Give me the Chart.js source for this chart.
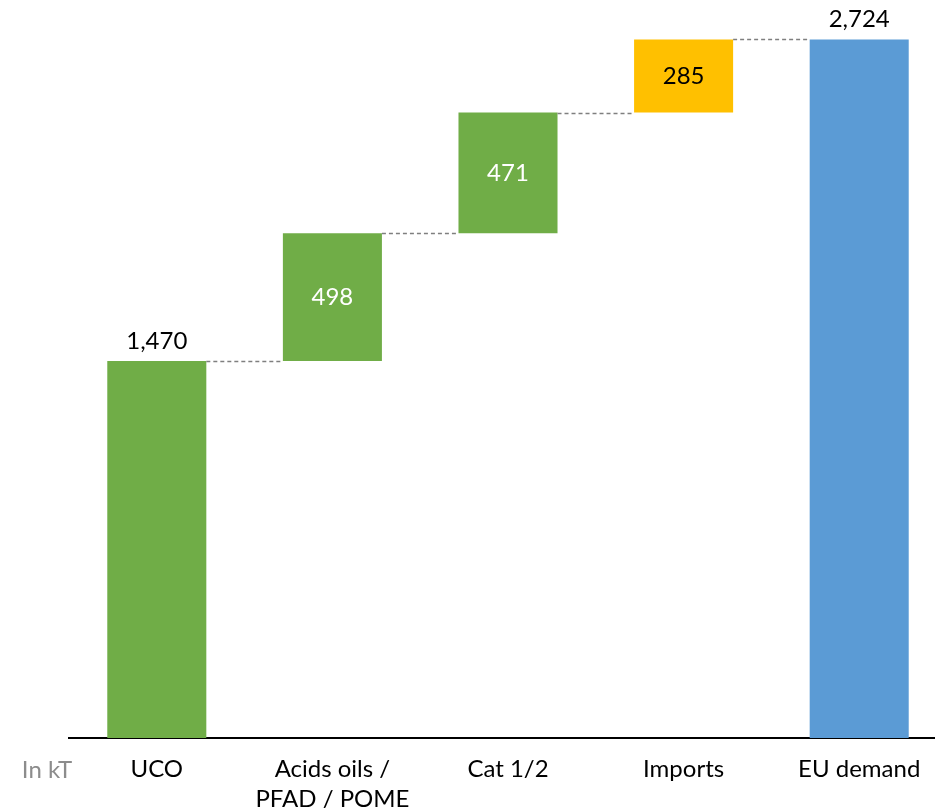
<!DOCTYPE html>
<html>
<head>
<meta charset="utf-8">
<script src="https://cdn.jsdelivr.net/npm/chart.js@4.4.1/dist/chart.umd.min.js"></script>
<style>
  html, body { margin: 0; padding: 0; background: #fff; overflow: hidden; }
  #wrap { width: 935px; height: 812px; overflow: hidden; position: relative; }
  #box { width: 947px; height: 812px; position: absolute; left: 0; top: 0; }
</style>
</head>
<body>
<div id="wrap"><div id="box"><canvas id="c"></canvas></div></div>
<script>
const categories = ['UCO', ['Acids oils /', 'PFAD / POME'], 'Cat 1/2', 'Imports', 'EU demand'];
const values = [1470, 498, 471, 285, 2724];
const isTotal = [true, false, false, false, true];
const barColors = ['#70AD47', '#70AD47', '#70AD47', '#FFC000', '#5B9BD5'];
const labelColors = ['#000000', '#FFFFFF', '#FFFFFF', '#000000', '#000000'];
const unitLabel = 'In kT';
const yMax = 2800;

const FONT = 'Lato, "Open Sans", sans-serif';

// floating ranges from the values
let running = 0;
const ranges = values.map((v, i) => {
  if (isTotal[i]) { running = v; return [0, v]; }
  const r = [running, running + v];
  running += v;
  return r;
});

const overlay = {
  id: 'overlay',
  afterDatasetsDraw(chart) {
    const ctx = chart.ctx;
    const meta = chart.getDatasetMeta(0);
    const y = chart.scales.y;
    ctx.save();
    // connectors
    ctx.strokeStyle = '#7F7F7F';
    ctx.lineWidth = 1.3;
    ctx.setLineDash([4, 3]);
    for (let i = 0; i < meta.data.length - 1; i++) {
      const a = meta.data[i], b = meta.data[i + 1];
      const level = ranges[i][1];
      const py = Math.round(y.getPixelForValue(level)) + 0.5;
      ctx.beginPath();
      ctx.moveTo(a.x + a.width / 2, py);
      ctx.lineTo(b.x - b.width / 2, py);
      ctx.stroke();
    }
    ctx.setLineDash([]);
    // value labels
    ctx.font = '24px ' + FONT;
    ctx.textAlign = 'center';
    ctx.textBaseline = 'middle';
    meta.data.forEach((bar, i) => {
      const txt = values[i].toLocaleString('en-US');
      ctx.fillStyle = labelColors[i];
      if (isTotal[i]) {
        const top = Math.min(bar.y, bar.base);
        ctx.fillText(txt, bar.x, top - 20);
      } else {
        ctx.fillText(txt, bar.x, (bar.y + bar.base) / 2);
      }
    });
    // unit label
    ctx.fillStyle = '#8C8C8C';
    ctx.fillText(unitLabel, 47, 770);
    ctx.restore();
  }
};

new Chart(document.getElementById('c'), {
  type: 'bar',
  data: {
    labels: categories,
    datasets: [{
      data: ranges,
      backgroundColor: barColors,
      borderWidth: 0,
      barPercentage: 0.564,
      categoryPercentage: 1.0
    }]
  },
  options: {
    responsive: true,
    maintainAspectRatio: false,
    animation: false,
    events: [],
    layout: { padding: { top: 20, left: 69, right: 0, bottom: 0 } },
    plugins: { legend: { display: false }, tooltip: { enabled: false } },
    scales: {
      x: {
        grid: { display: false, drawTicks: false },
        border: { display: true, color: '#000000', width: 2 },
        ticks: {
          color: '#000000',
          padding: 16,
          maxRotation: 0,
          autoSkip: false,
          font: { family: FONT, size: 24, lineHeight: 1.25 }
        },
        afterFit(axis) { axis.height = 74; }
      },
      y: {
        display: false,
        min: 0,
        max: yMax
      }
    }
  },
  plugins: [overlay]
});
</script>
</body>
</html>
